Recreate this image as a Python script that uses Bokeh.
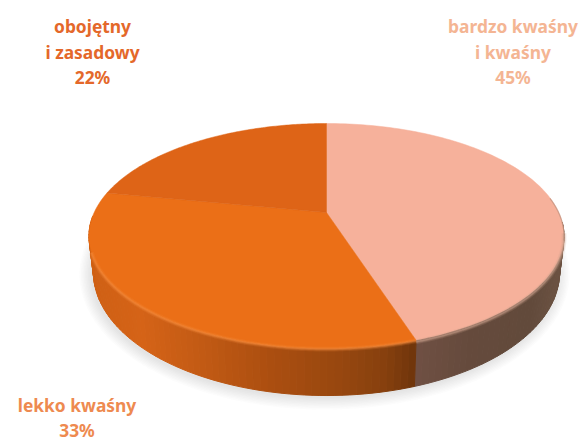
import numpy as np
from bokeh.plotting import figure
from bokeh.core.properties import value
from bokeh.embed import file_html
from bokeh.resources import INLINE

# --- data -------------------------------------------------------------
categories = ["bardzo kwaśny\ni kwaśny", "lekko kwaśny", "obojętny\ni zasadowy"]
shares = [45, 33, 22]
face_colors = ["#f6b19b", "#eb6f17", "#de6417"]
label_colors = ["#f4b593", "#ee8a50", "#e4682a"]
label_x = [512.5, 76.5, 92]
label_top = [25.5, 404, 25.5]

# --- projection of the disc -------------------------------------------
CX, APEX_Y, K, A, B = 326.0, 212.0, 0.209, 107.6, 232.3
TOP_CY, TOP_RX, TOP_RY = 235.5, 237.5, 112.5
BOT_CY, BOT_RX, BOT_RY = 272.0, 233.0, 123.0


def project(deg):
    t = np.radians(deg)
    u, v = np.sin(t), np.cos(t)
    w = 1 + K * v
    return CX + B * u / w, APEX_Y - A * v / w


def drop(x, y):
    return CX + BOT_RX * (x - CX) / TOP_RX, BOT_CY + BOT_RY * (y - TOP_CY) / TOP_RY


def lerp_color(stops, x):
    xs = [s[0] for s in stops]
    rgb = [int(round(np.interp(x, xs, [int(s[1][i:i + 2], 16) for s in stops]))) for i in (1, 3, 5)]
    return "#%02x%02x%02x" % tuple(rgb)


p = figure(width=583, height=441, x_range=(0, 583), y_range=(441, 0),
           output_backend="svg", toolbar_location=None, min_border=0)
p.axis.visible = False
p.grid.visible = False
p.outline_line_color = None
p.background_fill_color = "white"

# soft ground shadow
for i in range(9):
    d = 12 - i * 1.4
    t = np.radians(np.linspace(0, 360, 181))
    p.patch(CX - 2 + (BOT_RX + d) * np.cos(t), BOT_CY + 2 + (BOT_RY + d) * np.sin(t),
            fill_color="#6b6b5f", fill_alpha=0.018, line_color=None)

bounds = np.cumsum([0] + shares) * 3.6

# side wall
pink_stops = [(412, "#705044"), (470, "#654a3c"), (530, "#624a3b"), (560, "#6b5242")]
orange_stops = [(88, "#cf6014"), (140, "#d56317"), (200, "#c25a14"), (270, "#ab4e10"),
                (340, "#97470f"), (385, "#86400e"), (414, "#70350b")]
for lo, hi, stops in [(95, bounds[1], pink_stops), (bounds[1], 268, orange_stops)]:
    edges = np.linspace(lo, hi, int((hi - lo) / 1.5) + 2)
    for a0, a1 in zip(edges[:-1], edges[1:]):
        x0, y0 = project(a0)
        x1, y1 = project(a1)
        bx0, by0 = drop(x0, y0)
        bx1, by1 = drop(x1, y1)
        col = lerp_color(stops, (x0 + x1) / 2)
        p.patch([x0, x1, bx1, bx0], [y0, y1, by1, by0], fill_color=col, line_color=col, line_width=1)

# top face
for i, c in enumerate(face_colors):
    a = np.linspace(bounds[i], bounds[i + 1], 120)
    x, y = project(a)
    p.patch(np.r_[CX, x], np.r_[APEX_Y, y], fill_color=c, line_color=c, line_width=0.5)

# rim highlights on the edge of the disc
a_p = np.linspace(100, bounds[1], 90)
a_o = np.linspace(bounds[1], 250, 120)
xp, yp = project(a_p)
xo, yo = project(a_o)
for w, al in [(5, 0.18), (3, 0.3), (1.5, 0.45)]:
    p.line(xp, yp + 1.5, line_color="#c9a08c", line_width=w, line_alpha=al)
    p.line(xo, yo + 0.5, line_color="#f48a3c", line_width=w, line_alpha=al)
a_e = np.linspace(82, 104, 30)
xe, ye = project(a_e)
p.line(xe, ye + 0.5, line_color="#a07c6a", line_width=1.2, line_alpha=0.45)

# labels
for cat, s, col, lx, ly in zip(categories, shares, label_colors, label_x, label_top):
    lines = cat.split("\n") + [f"{s}%"]
    for j, t in enumerate(lines):
        p.text([lx], [ly + j * 25.5], text=[t], text_color=col, text_align="center",
               text_baseline="middle", text_font=value("Noto Sans"),
               text_font_size="17.4px", text_font_style="bold")

open("out.html", "w").write(file_html(p, INLINE))
